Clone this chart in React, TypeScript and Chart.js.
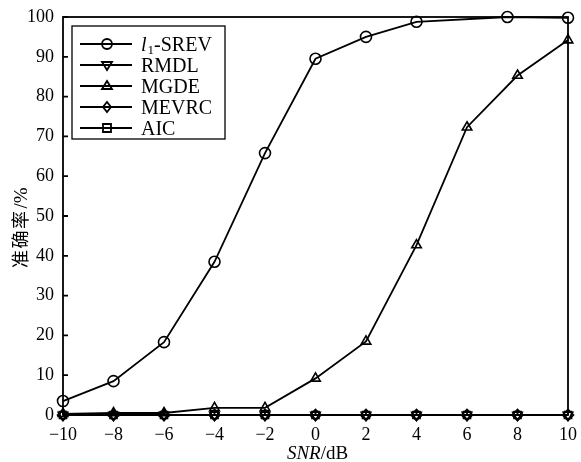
import React, { useEffect, useRef } from "react";
import { Chart, registerables } from "chart.js";

Chart.register(...registerables);

const snrTicks = [-10, -8, -6, -4, -2, 0, 2, 4, 6, 8, 10];
const snr = [-10, -8, -6, -4, -2, 0, 2, 4, 6, 8, 10];
const srevSnr = [-10, -8, -6, -4, -2, 0, 2, 4, 7.6, 10];
const srevAcc = [3.5, 8.5, 18.3, 38.5, 65.8, 89.5, 95, 98.8, 100, 99.8];
const rmdlAcc = [0, 0, 0, 0, 0, 0, 0, 0, 0, 0, 0];
const mgdeAcc = [0.3, 0.5, 0.5, 1.8, 1.8, 9.2, 18.5, 42.7, 72.3, 85.3, 94.2];
const mevrcAcc = [0, 0, 0, 0, 0, 0, 0, 0, 0, 0, 0];
const aicAcc = [0, 0, 0, 0, 0, 0, 0, 0, 0, 0, 0];
const legendNames = ["SREV", "RMDL", "MGDE", "MEVRC", "AIC"];
const yTickValues = [0, 10, 20, 30, 40, 50, 60, 70, 80, 90, 100];

const SERIF = "'Liberation Serif', 'Times New Roman', serif";

function drawMarker(ctx: CanvasRenderingContext2D, kind: string, x: number, y: number, r: number) {
  ctx.beginPath();
  if (kind === "circle") {
    ctx.arc(x, y, r, 0, Math.PI * 2);
  } else if (kind === "down") {
    ctx.moveTo(x - r, y - r * 0.6);
    ctx.lineTo(x + r, y - r * 0.6);
    ctx.lineTo(x, y + r);
    ctx.closePath();
  } else if (kind === "up") {
    ctx.moveTo(x - r, y + r * 0.6);
    ctx.lineTo(x + r, y + r * 0.6);
    ctx.lineTo(x, y - r);
    ctx.closePath();
  } else if (kind === "diamond") {
    ctx.moveTo(x, y - r);
    ctx.lineTo(x + r * 0.8, y);
    ctx.lineTo(x, y + r);
    ctx.lineTo(x - r * 0.8, y);
    ctx.closePath();
  } else {
    ctx.rect(x - r * 0.8, y - r * 0.8, r * 1.6, r * 1.6);
  }
  ctx.stroke();
}

const framePlugin = {
  id: "frame",
  afterDraw(chart: any) {
    const ctx: CanvasRenderingContext2D = chart.ctx;
    const a = chart.chartArea;
    const xs = chart.scales.x;
    const ys = chart.scales.y;
    ctx.save();
    ctx.strokeStyle = "#000";
    ctx.lineWidth = 1.8;
    ctx.strokeRect(a.left, a.top, a.right - a.left, a.bottom - a.top);
    // inward ticks
    ctx.beginPath();
    for (const v of yTickValues) {
      const py = ys.getPixelForValue(v);
      ctx.moveTo(a.left, py);
      ctx.lineTo(a.left + 5, py);
    }
    for (const v of snrTicks) {
      const px = xs.getPixelForValue(v);
      ctx.moveTo(px, a.bottom);
      ctx.lineTo(px, a.bottom - 5);
    }
    ctx.stroke();

    // x axis title
    ctx.fillStyle = "#000";
    ctx.textBaseline = "alphabetic";
    ctx.font = `19px ${SERIF}`;
    const w2 = ctx.measureText("/dB").width;
    ctx.font = `italic 19px ${SERIF}`;
    const w1 = ctx.measureText("SNR").width;
    const cx = (a.left + a.right) / 2 + 2;
    const sx = cx - (w1 + w2) / 2;
    ctx.textAlign = "left";
    ctx.fillText("SNR", sx, 459);
    ctx.font = `19px ${SERIF}`;
    ctx.fillText("/dB", sx + w1, 459);

    // y axis title
    ctx.save();
    ctx.translate(27, 268);
    ctx.rotate(-Math.PI / 2);
    ctx.textAlign = "left";
    let off = 0;
    ctx.font = `18px 'Noto Sans CJK SC', sans-serif`;
    for (const ch of ["准", "确", "率"]) {
      ctx.fillText(ch, off, 0);
      off += 19.5;
    }
    ctx.font = `19px ${SERIF}`;
    ctx.fillText("/%", off + 1, 0);
    ctx.restore();

    // legend
    const bx = 72, by = 26, bw = 153, bh = 113;
    ctx.fillStyle = "#fff";
    ctx.fillRect(bx, by, bw, bh);
    ctx.lineWidth = 1.3;
    ctx.strokeRect(bx, by, bw, bh);
    const kinds = ["circle", "down", "up", "diamond", "square"];
    ctx.lineWidth = 1.8;
    for (let i = 0; i < 5; i++) {
      const yy = 44 + i * 21;
      ctx.beginPath();
      ctx.moveTo(80, yy);
      ctx.lineTo(132, yy);
      ctx.stroke();
      ctx.fillStyle = "#fff";
      drawMarker(ctx, kinds[i], 107, yy, 5);
      ctx.fillStyle = "#000";
      ctx.textAlign = "left";
      const base = yy + 7;
      if (i === 0) {
        ctx.font = `italic 20px ${SERIF}`;
        ctx.fillText("l", 141, base);
        const wl = ctx.measureText("l").width;
        ctx.font = `13px ${SERIF}`;
        ctx.fillText("1", 141 + wl + 1, base + 3);
        const w1s = ctx.measureText("1").width;
        ctx.font = `20px ${SERIF}`;
        ctx.fillText("-" + legendNames[i], 141 + wl + 1 + w1s, base);
      } else {
        ctx.font = `20px ${SERIF}`;
        ctx.fillText(legendNames[i], 141, base);
      }
    }
    ctx.restore();
  },
};

function pts(xs: number[], ys: number[]) {
  return xs.map((x, i) => ({ x, y: ys[i] }));
}

function zeroPad(s: any) {
  s.paddingTop = 0;
  s.paddingBottom = 0;
  s.paddingLeft = 0;
  s.paddingRight = 0;
}

export default function App() {
  const ref = useRef<HTMLCanvasElement>(null);
  useEffect(() => {
    if (!ref.current) return;
    const common = {
      borderColor: "#000",
      backgroundColor: "transparent",
      pointBorderColor: "#000",
      pointBackgroundColor: "transparent",
      borderWidth: 1.8,
      pointBorderWidth: 1.6,
      pointRadius: 5.5,
      tension: 0,
      clip: false as any,
    };
    const chart = new Chart(ref.current, {
      type: "line",
      data: {
        datasets: [
          { ...common, label: "l1-SREV", data: pts(srevSnr, srevAcc), pointStyle: "circle" },
          { ...common, label: "RMDL", data: pts(snr, rmdlAcc), pointStyle: "triangle", pointRotation: 180 },
          { ...common, label: "MGDE", data: pts(snr, mgdeAcc), pointStyle: "triangle" },
          { ...common, label: "MEVRC", data: pts(snr, mevrcAcc), pointStyle: "rectRot" },
          { ...common, label: "AIC", data: pts(snr, aicAcc), pointStyle: "rect", pointRadius: 5 },
        ] as any,
      },
      options: {
        responsive: false,
        animation: false,
        layout: { padding: { left: 0, top: 17, right: 13, bottom: 0 } },
        plugins: { legend: { display: false }, tooltip: { enabled: false } },
        scales: {
          x: {
            type: "linear",
            min: -10,
            max: 10,
            grid: { display: false, drawTicks: false },
            border: { display: false },
            afterFit: (s: any) => { s.height = 47; zeroPad(s); },
            afterBuildTicks: (s: any) => { s.ticks = snrTicks.map((v) => ({ value: v })); },
            ticks: {
              padding: 9,
              color: "#000",
              font: { family: SERIF, size: 18 },
              maxRotation: 0,
              callback: (v: any) => String(v).replace("-", "\u2212"),
            },
          },
          y: {
            min: 0,
            max: 100,
            grid: { display: false, drawTicks: false },
            border: { display: false },
            afterFit: (s: any) => { s.width = 63; zeroPad(s); },
            afterBuildTicks: (s: any) => { s.ticks = yTickValues.map((v) => ({ value: v })); },
            ticks: {
              padding: 9,
              color: "#000",
              font: { family: SERIF, size: 18 },
            },
          },
        },
      },
      plugins: [framePlugin],
    });
    return () => chart.destroy();
  }, []);
  return (
    <div style={{ position: "fixed", left: 0, top: 0, width: 581, height: 462, background: "#fff" }}>
      <canvas ref={ref} width={581} height={462} style={{ display: "block" }} />
    </div>
  );
}
